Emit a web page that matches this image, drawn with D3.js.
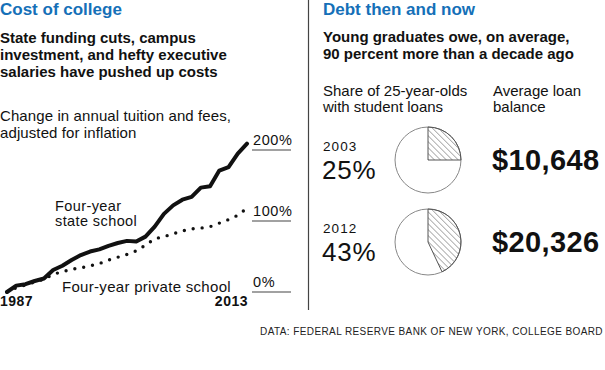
<!DOCTYPE html>
<html><head><meta charset="utf-8">
<script src="https://cdn.jsdelivr.net/npm/d3@7"></script>
<style>
body{margin:0;background:#fff;}
text{font-family:"Liberation Sans",Arial,sans-serif;}
</style></head>
<body><svg id="c" width="605" height="370"></svg>
<script>
const years = [1987,1988,1989,1990,1991,1992,1993,1994,1995,1996,1997,1998,1999,2000,2001,2002,2003,2004,2005,2006,2007,2008,2009,2010,2011,2012,2013];
const stateSchool = [0,9,11,15.5,19,31,37,45,52,57,60,65,69,72,71,78,92,110,122,130,134,147,149,171,176,195,209];
const privateSchool = [0,6,10,14,18,25,28.5,32,34,37,40,45,49,53,58,66,75,78,82,86,89,90,92,97,102,108,118];
const yTicks = [0,100,200];
const yTickLabels = ["0%","100%","200%"];
const xTickLabels = ["1987","2013"];
const pieYears = ["2003","2012"];
const pieShares = [25,43];
const loanBalances = ["$10,648","$20,326"];

const blue = "#1570b8";
const svg = d3.select("#c");

// pattern
const defs = svg.append("defs");
const pat = defs.append("pattern").attr("id","hatch").attr("patternUnits","userSpaceOnUse")
  .attr("width",4.2).attr("height",4.2).attr("patternTransform","rotate(-45)");
pat.append("line").attr("x1",0).attr("y1",0).attr("x2",0).attr("y2",4.2).attr("stroke","#555").attr("stroke-width",0.9);

// Left panel text
svg.append("text").attr("x",0).attr("y",15).attr("fill",blue).attr("font-weight","bold").attr("font-size",17).text("Cost of college");
["State funding cuts, campus","investment, and hefty executive","salaries have pushed up costs"].forEach((t,i)=>{
  svg.append("text").attr("x",0).attr("y",43+i*17).attr("font-weight","bold").attr("font-size",15).attr("fill","#111").text(t);
});
["Change in annual tuition and fees,","adjusted for inflation"].forEach((t,i)=>{
  svg.append("text").attr("x",0).attr("y",121+i*17).attr("font-size",15).attr("letter-spacing",0.1).attr("fill","#111").text(t);
});

// chart
const x = d3.scaleLinear().domain([1987,2013]).range([7,247]);
const y = d3.scaleLinear().domain([0,200]).range([292,150]);

// y axis labels with underline
const yg = svg.append("g");
yTicks.forEach((v,i)=>{
  yg.append("line").attr("x1",252).attr("x2",291).attr("y1",y(v)).attr("y2",y(v)).attr("stroke","#444").attr("stroke-width",1.2);
  yg.append("text").attr("x",253).attr("y",y(v)-5).attr("font-size",14.5).attr("letter-spacing",0.6).attr("fill","#111").text(yTickLabels[i]);
});

const lineP = d3.line().x((d,i)=>x(years[i])).y(d=>y(d)).curve(d3.curveLinear);
svg.append("path").datum(privateSchool).attr("d",lineP).attr("fill","none").attr("stroke","#111")
  .attr("stroke-width",3.4).attr("stroke-linecap","round").attr("stroke-dasharray","0,9");
svg.append("path").datum(stateSchool).attr("d",lineP).attr("fill","none").attr("stroke","#111")
  .attr("stroke-width",4).attr("stroke-linejoin","round").attr("stroke-linecap","round");

// x labels
svg.append("text").attr("x",0).attr("y",306).attr("font-size",14).attr("font-weight","bold").attr("letter-spacing",0.5).attr("fill","#111").text(xTickLabels[0]);
svg.append("text").attr("x",248).attr("y",306).attr("text-anchor","end").attr("font-size",14).attr("font-weight","bold").attr("letter-spacing",0.5).attr("fill","#111").text(xTickLabels[1]);

// series labels
svg.append("text").attr("x",55).attr("y",210.5).attr("font-size",14.5).attr("letter-spacing",0.4).attr("fill","#111").text("Four-year");
svg.append("text").attr("x",55).attr("y",226).attr("font-size",14.5).attr("letter-spacing",0.4).attr("fill","#111").text("state school");
svg.append("text").attr("x",62).attr("y",292).attr("font-size",15).attr("letter-spacing",0.3).attr("fill","#111").text("Four-year private school");

// divider
svg.append("line").attr("x1",308.5).attr("x2",308.5).attr("y1",0).attr("y2",310).attr("stroke","#444").attr("stroke-width",1.2);

// right panel
svg.append("text").attr("x",323).attr("y",15).attr("fill",blue).attr("font-weight","bold").attr("font-size",17).text("Debt then and now");
["Young graduates owe, on average,","90 percent more than a decade ago"].forEach((t,i)=>{
  svg.append("text").attr("x",323).attr("y",42+i*17).attr("font-weight","bold").attr("font-size",15).attr("fill","#111").text(t);
});
["Share of 25-year-olds","with student loans"].forEach((t,i)=>{
  svg.append("text").attr("x",323).attr("y",96+i*16).attr("font-size",15).attr("fill","#111").text(t);
});
["Average loan","balance"].forEach((t,i)=>{
  svg.append("text").attr("x",493).attr("y",96+i*16).attr("font-size",15).attr("fill","#111").text(t);
});

const pieCy = [160,242];
const r = 33;
const arc = d3.arc().innerRadius(0).outerRadius(r);
pieShares.forEach((s,i)=>{
  const g = svg.append("g").attr("transform",`translate(428,${pieCy[i]})`);
  g.append("circle").attr("r",r).attr("fill","#fff").attr("stroke","#888").attr("stroke-width",1);
  const pie = d3.pie().sort(null)([s,100-s]);
  g.append("path").attr("d",arc(pie[0])).attr("fill","url(#hatch)").attr("stroke","#555").attr("stroke-width",1);
  svg.append("text").attr("x",323).attr("y",pieCy[i]-9).attr("font-size",13.5).attr("letter-spacing",1.1).attr("fill","#111").text(pieYears[i]);
  svg.append("text").attr("x",322).attr("y",pieCy[i]+19).attr("font-size",26).attr("letter-spacing",0.8).attr("fill","#111").text(s+"%");
  svg.append("text").attr("x",492).attr("y",pieCy[i]+10).attr("font-size",29).attr("font-weight","bold").attr("letter-spacing",0.4).attr("fill","#111").text(loanBalances[i]);
});

svg.append("text").attr("x",603).attr("y",335).attr("text-anchor","end").attr("font-size",10).attr("letter-spacing",0.4).attr("fill","#222")
  .text("DATA: FEDERAL RESERVE BANK OF NEW YORK, COLLEGE BOARD");
</script></body></html>
